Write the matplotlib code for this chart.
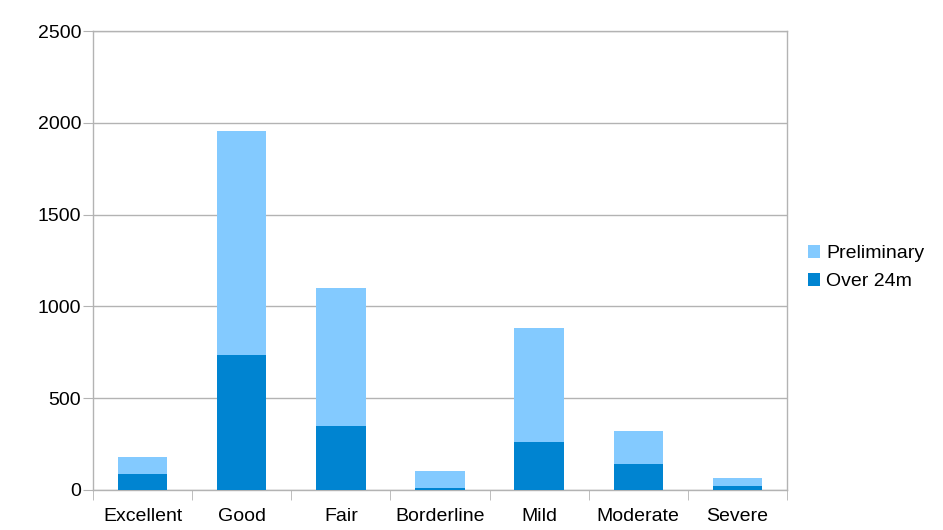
import matplotlib.pyplot as plt
import numpy as np

categories = ["Excellent", "Good", "Fair", "Borderline", "Mild", "Moderate", "Severe"]
over_24m = [87, 733, 346, 12, 259, 139, 22]
preliminary = [93, 1224, 754, 93, 624, 180, 43]

light = "#83caff"
dark = "#0084d1"
grid_col = "#b3b3b3"

plt.rcParams["font.family"] = ["Liberation Sans", "DejaVu Sans"]

fig = plt.figure(figsize=(9.43, 5.30), dpi=100)
ax = fig.add_axes([0.0986, 0.0755, 0.7360, 0.866])

x = np.arange(len(categories))
b1 = ax.bar(x, over_24m, width=0.5, color=dark, label="Over 24m", zorder=3)
b2 = ax.bar(x, preliminary, width=0.5, bottom=over_24m, color=light,
            label="Preliminary", zorder=3)

ax.set_xlim(-0.5, len(categories) - 0.5)
ax.set_ylim(0, 2500)
ax.set_yticks(np.arange(0, 2501, 500))
ax.yaxis.grid(True, color=grid_col, linewidth=1)
ax.set_axisbelow(True)

ax.set_xticks(x)
ax.set_xticklabels(categories)
ax.set_xticks(np.arange(-0.5, len(categories)), minor=True)
ax.tick_params(axis="x", which="major", length=0, labelsize=14, pad=13)
ax.tick_params(axis="x", which="minor", length=7, color=grid_col, direction="out")
ax.tick_params(axis="y", length=7, color=grid_col, labelsize=14, pad=1.5)

for s in ax.spines.values():
    s.set_color(grid_col)
    s.set_linewidth(1)

fig.legend(handles=[b2, b1], labels=["Preliminary", "Over 24m"],
           loc="center left", bbox_to_anchor=(0.838, 0.495), frameon=False,
           fontsize=14, handlelength=0.65, handleheight=0.65,
           handletextpad=0.3, labelspacing=0.55)

fig.savefig("out.png", dpi=100)
